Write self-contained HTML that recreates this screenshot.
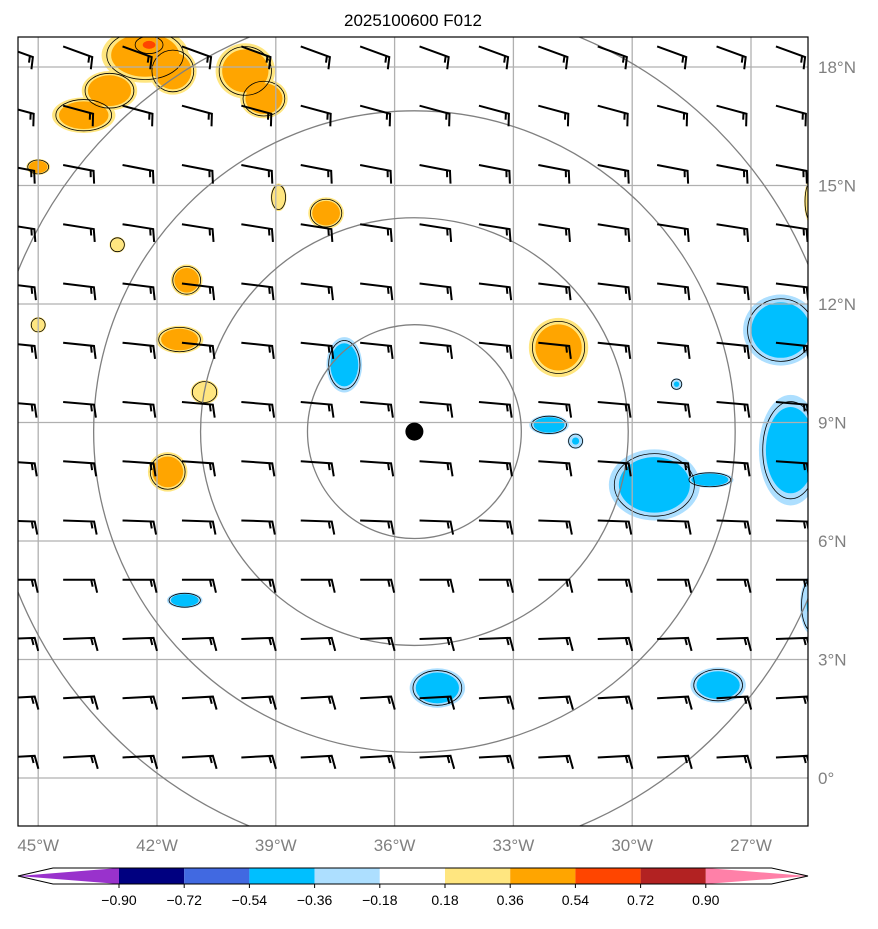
<!DOCTYPE html>
<html><head><meta charset="utf-8"><style>
body{margin:0;background:#fff;}
svg text{font-family:"Liberation Sans","DejaVu Sans",sans-serif;}
</style></head><body>
<svg id="c" width="878" height="924" viewBox="0 0 878 924" xmlns="http://www.w3.org/2000/svg">
<text x="413" y="26" text-anchor="middle" font-size="17" fill="#000">2025100600 F012</text>
<defs><clipPath id="mapclip"><rect x="18" y="37" width="790" height="789"/></clipPath></defs>
<g id="fills" clip-path="url(#mapclip)"></g>
<g id="grid" clip-path="url(#mapclip)"></g>
<g id="rings" clip-path="url(#mapclip)"></g>
<g id="barbs" clip-path="url(#mapclip)"></g>
<rect x="18" y="37" width="790" height="789" fill="none" stroke="#000" stroke-width="1.2"/>
<g id="labels"></g>
<g id="cbar"></g>
</svg>
<script>
const lonTicks=[-45,-42,-39,-36,-33,-30,-27];
const lonTickLabels=["45°W","42°W","39°W","36°W","33°W","30°W","27°W"];
const latTicks=[18,15,12,9,6,3,0];
const latTickLabels=["18°N","15°N","12°N","9°N","6°N","3°N","0°"];
const centerLon=-35.5, centerLat=8.77;
const ringRadiiDeg=[2.7,5.4,8.1,10.8];
const barbLons=[-44.37,-42.87,-41.37,-39.87,-38.37,-36.87,-35.37,-33.87,-32.37,-30.87,-29.37,-27.87,-26.37,-24.87,-45.87];
const barbLats=[18.52,17.02,15.52,14.02,12.52,11.02,9.52,8.02,6.52,5.02,3.52,2.02,0.52];
const barbRowAngle=[20,15,11,9,7,6,5,4,2,0,-2,-3,-3];
const blobLon=[-42.3,-43.85,-39.77,-42.2,-45,-38.93,-37.73,-43,-41.25,-45,-41.43,-40.8,-41.73,-31.86,-37.27,-32.1,-31.43,-29.44,-28.04,-26.25,-26,-28.88,-41.3,-34.92,-27.83,-25.46,-25.46,-43.2,-41.6,-39.3];
const blobLat=[18.3,16.78,17.9,18.56,15.47,14.7,14.3,13.5,12.6,11.47,11.1,9.77,7.75,10.9,10.46,8.94,8.53,7.42,7.55,11.34,8.3,9.97,4.5,2.28,2.35,4.38,14.6,17.4,17.9,17.2];
const blobRx=[1.1,0.8,0.75,0.4,0.3,0.2,0.45,0.2,0.4,0.2,0.6,0.35,0.5,0.75,0.45,0.5,0.2,1.15,0.6,0.95,0.8,0.15,0.45,0.7,0.7,0.3,0.2,0.7,0.6,0.6];
const blobRy=[0.7,0.45,0.7,0.25,0.2,0.35,0.4,0.2,0.4,0.2,0.35,0.3,0.5,0.75,0.7,0.25,0.2,0.9,0.2,0.9,1.4,0.15,0.2,0.5,0.45,0.75,0.6,0.5,0.6,0.5];
const blobVal=[0.45,0.45,0.45,0.6,0.4,0.25,0.4,0.25,0.4,0.25,0.38,0.25,0.45,0.45,-0.45,-0.4,-0.3,-0.45,-0.4,-0.45,-0.45,-0.3,-0.4,-0.45,-0.45,-0.3,0.25,0.45,0.45,0.45];
const cbBounds=[-0.9,-0.72,-0.54,-0.36,-0.18,0.18,0.36,0.54,0.72,0.9];
const cbLabels=["−0.90","−0.72","−0.54","−0.36","−0.18","0.18","0.36","0.54","0.72","0.90"];
const cbColors=["#9932CC","#000080","#4169E1","#00BFFF","#ADDFFF","#FFFFFF","#FFE680","#FFA500","#FF4500","#B22222","#FF80A8"];

const NS="http://www.w3.org/2000/svg";
const X=lon=>38.2+(lon+45)*39.6;
const Y=lat=>67+(18-lat)*39.5;
function mk(tag,attrs,parent){const e=document.createElementNS(NS,tag);for(const k in attrs)e.setAttribute(k,attrs[k]);parent.appendChild(e);return e;}
const g=id=>document.getElementById(id);

const fills=g('fills');
const layerY=mk('g',{},fills), layerO=mk('g',{},fills), layerR=mk('g',{},fills), layerL=mk('g',{},fills);
for(let i=0;i<blobLon.length;i++){
  const v=blobVal[i],cx=X(blobLon[i]),cy=Y(blobLat[i]);
  const rx=blobRx[i]*39.6, ry=blobRy[i]*39.5;
  const levels=v>0?[["#FFE680",1.0,layerY],["#FFA500",v>=0.36?0.78:0,layerO],["#FF4500",v>=0.54?0.4:0,layerR]]
                  :[["#ADDFFF",1.0,layerY],["#00BFFF",v<=-0.36?0.78:0.45,layerO],["#4169E1",v<=-0.54?0.4:0,layerR]];
  levels.forEach(l=>{ if(!l[1])return;
    const e=mk('ellipse',{cx:cx,cy:cy,rx:rx*l[1],ry:ry*l[1],fill:l[0]},l[2]);
    
    
  });
  const o=mk('ellipse',{cx:cx,cy:cy,rx:rx*0.88,ry:ry*0.88,fill:'none',stroke:'#000','stroke-width':0.8},layerL);
  
  
}
const grid=g('grid');
lonTicks.forEach(l=>{const e=mk('line',{x1:X(l),x2:X(l),y1:37,y2:826,stroke:'#b0b0b0','stroke-width':1.3},grid);
  });
latTicks.forEach(l=>{const e=mk('line',{x1:18,x2:808,y1:Y(l),y2:Y(l),stroke:'#b0b0b0','stroke-width':1.3},grid);
  });
const rings=g('rings');
ringRadiiDeg.forEach(r=>{const e=mk('circle',{cx:X(centerLon),cy:Y(centerLat),r:r*39.6,fill:'none',stroke:'#808080','stroke-width':1.3},rings);
  });
const dot=mk('circle',{cx:X(centerLon),cy:Y(centerLat),r:9,fill:'#000'},rings);


const barbs=g('barbs');
barbLats.forEach((lat,ri)=>{
  const a=barbRowAngle[ri]*Math.PI/180;
  barbLons.forEach(lon=>{
    const x0=X(lon),y0=Y(lat),L=31;
    const x1=x0+L*Math.cos(a),y1=y0+L*Math.sin(a);
    const px=-Math.sin(a),py=Math.cos(a);
    const d=`M${x0},${y0}L${x1},${y1}L${x1+3+px*13},${y1+py*13}M${x1-3},${y1-3*Math.sin(a)}L${x1-3+1.5+px*7},${y1-3*Math.sin(a)+py*7}`;
    const e=mk('path',{d:d,fill:'none',stroke:'#000','stroke-width':2},barbs);
    
    
  });
});
const labels=g('labels');
lonTicks.forEach((l,i)=>{const t=mk('text',{x:X(l),y:851,'text-anchor':'middle','font-size':17,fill:'#808080'},labels);t.textContent=lonTickLabels[i];
  });
latTicks.forEach((l,i)=>{const t=mk('text',{x:818,y:Y(l)+6,'font-size':17,fill:'#808080'},labels);t.textContent=latTickLabels[i];
  });
const cb=g('cbar');
const cbX=v=>{const i=cbBounds.indexOf(v);return 119+i*65.2;};
const y0=868,y1=884;
for(let i=0;i<=cbBounds.length;i++){
  let xa=i==0?53:cbX(cbBounds[i-1]), xb=i==cbBounds.length?771.5:cbX(cbBounds[i]);
  let e;
  if(i==0) e=mk('path',{d:`M18,876L${xb},${y0}L${xb},${y1}Z`,fill:cbColors[i]},cb);
  else if(i==cbBounds.length) e=mk('path',{d:`M${xa},${y0}L808,876L${xa},${y1}Z`,fill:cbColors[i]},cb);
  else e=mk('rect',{x:xa,y:y0,width:xb-xa,height:y1-y0,fill:cbColors[i]},cb);
  
  
}
const ol=mk('path',{d:`M18,876L53,${y0}L771.5,${y0}L808,876L771.5,${y1}L53,${y1}Z`,fill:'none',stroke:'#000','stroke-width':1},cb);


cbBounds.forEach((b,i)=>{
  const tk=mk('line',{x1:cbX(b),x2:cbX(b),y1:y1,y2:y1+4,stroke:'#000'},cb);
  
  const t=mk('text',{x:cbX(b),y:905,'text-anchor':'middle','font-size':14,fill:'#000'},cb);t.textContent=cbLabels[i];
  
});
</script>
</body></html>
